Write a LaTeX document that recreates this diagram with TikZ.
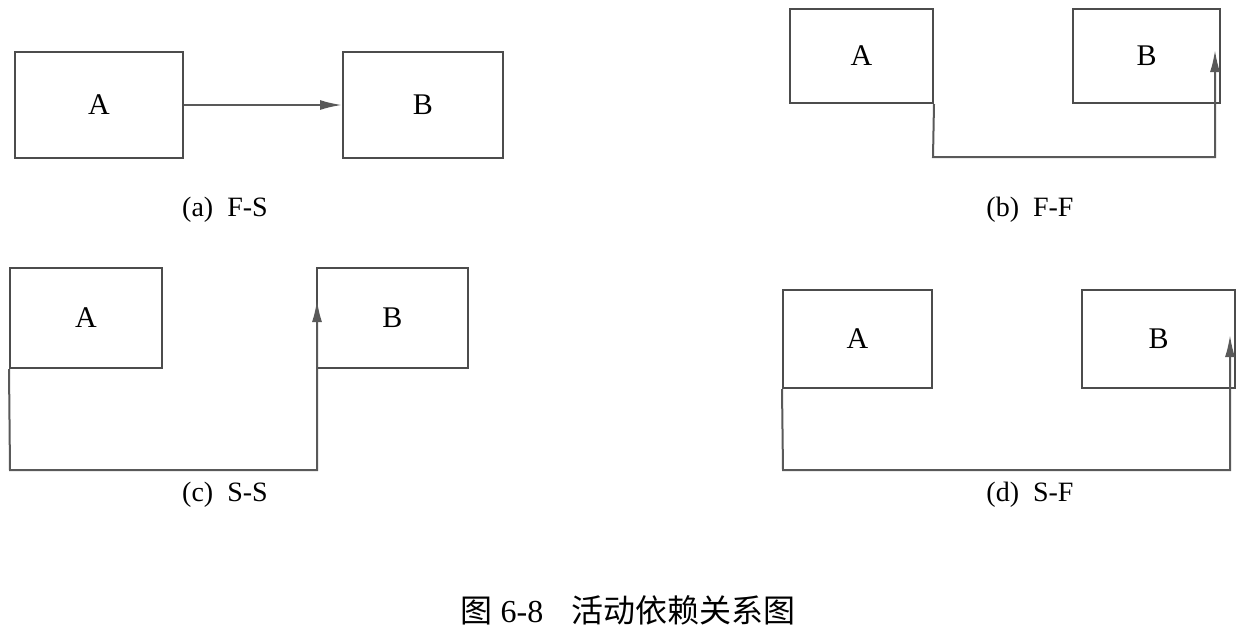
\documentclass[tikz,border=0pt]{standalone}
\usepackage{fontspec}
\setmainfont{Liberation Serif}
\newfontfamily\cjk{Noto Sans CJK SC}
\usetikzlibrary{arrows.meta}
\begin{document}
\begin{tikzpicture}[x=1pt,y=-1pt,
  bx/.style={draw=black!70,line width=2pt,inner sep=0pt,font=\fontsize{30}{34}\selectfont},
  cn/.style={draw=black!65,line width=2pt,-{Latex[length=22pt,width=10pt]}},
  captext/.style={font=\fontsize{28}{32}\selectfont}]
\useasboundingbox (0,0) rectangle (1243,641);
% (a)
\node[bx,minimum width=168pt,minimum height=106pt] (aA) at (99,105) {A};
\node[bx,minimum width=160pt,minimum height=106pt] (aB) at (423,105) {B};
\draw[cn] (aA.east) -- (aB.west);
\node[captext] (ca) at (225,210) {(a)\hspace{14pt}F-S};
% (b)
\node[bx,minimum width=143pt,minimum height=94pt] (bA) at (861.5,56) {A};
\node[bx,minimum width=147pt,minimum height=94pt] (bB) at (1146.5,56) {B};
\coordinate (b1) at (933,157);
\coordinate (b2) at (1215,157);
\coordinate (b3) at (1215,50);
\draw[cn] (bA.south east) -- (b1) -- (b2) -- (b3);
\node[captext] (cb) at (1030,210) {(b)\hspace{14pt}F-F};
% (c)
\node[bx,minimum width=152pt,minimum height=100pt] (cA) at (86,318) {A};
\node[bx,minimum width=151pt,minimum height=100pt] (cB) at (392.5,318) {B};
\coordinate (c1) at (10,470);
\coordinate (c2) at (317,470);
\coordinate (c3) at (317,300);
\draw[cn] (cA.south west) -- (c1) -- (c2) -- (c3);
\node[captext] (cc) at (225,495) {(c)\hspace{14pt}S-S};
% (d)
\node[bx,minimum width=149pt,minimum height=98pt] (dA) at (857.5,339) {A};
\node[bx,minimum width=153pt,minimum height=98pt] (dB) at (1158.5,339) {B};
\coordinate (d1) at (783,470);
\coordinate (d2) at (1230,470);
\coordinate (d3) at (1230,335);
\draw[cn] (dA.south west) -- (d1) -- (d2) -- (d3);
\node[captext] (cd) at (1030,495) {(d)\hspace{14pt}S-F};
\node[font=\fontsize{32}{36}\selectfont] (t) at (628,610) {{\cjk 图} 6-8\hspace{28pt}{\cjk 活动依赖关系图}};
\end{tikzpicture}
\end{document}
